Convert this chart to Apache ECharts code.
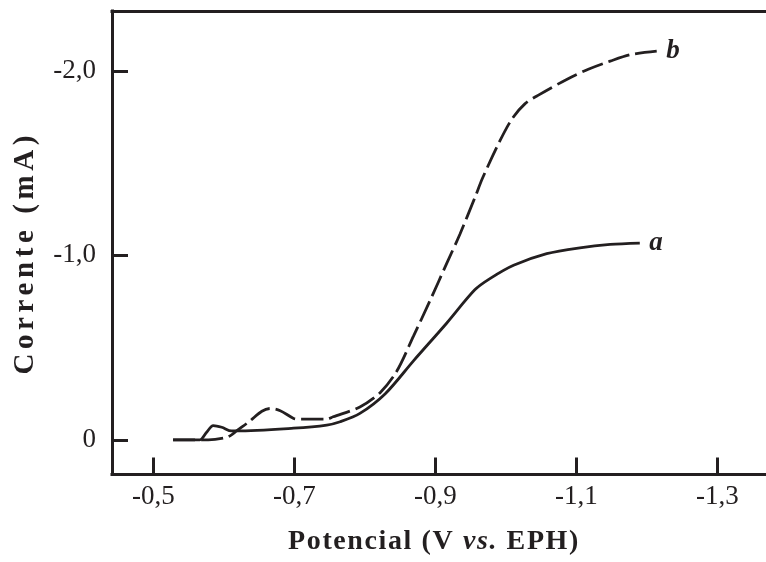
<!DOCTYPE html>
<html>
<head>
<meta charset="utf-8">
<script src="https://cdn.jsdelivr.net/npm/echarts@6/dist/echarts.min.js"></script>
<style>
html,body{margin:0;padding:0;background:#fff;}
#chart{width:766px;height:562px;}
</style>
</head>
<body>
<div id="chart"></div>
<script>
// ---- data ----
const potentialA = [-0.528,-0.566,-0.575,-0.585,-0.597,-0.611,-0.618,-0.699,-0.746,-0.765,-0.793,-0.829,-0.869,-0.916,-0.956,-0.978,-1.011,-1.058,-1.105,-1.148,-1.190];
const currentA   = [0,0,-0.038,-0.077,-0.068,-0.048,-0.048,-0.063,-0.080,-0.098,-0.143,-0.250,-0.428,-0.632,-0.813,-0.875,-0.946,-1.009,-1.041,-1.059,-1.066];
const potentialB = [-0.528,-0.578,-0.602,-0.611,-0.618,-0.637,-0.654,-0.666,-0.680,-0.699,-0.708,-0.746,-0.755,-0.793,-0.822,-0.845,-0.869,-0.893,-0.916,-0.935,-0.956,-0.967,-0.991,-1.009,-1.027,-1.045,-1.087,-1.117,-1.148,-1.178,-1.214];
const currentB   = [0,0,-0.011,-0.027,-0.048,-0.102,-0.155,-0.170,-0.158,-0.116,-0.112,-0.112,-0.125,-0.178,-0.257,-0.370,-0.562,-0.759,-0.955,-1.116,-1.312,-1.419,-1.616,-1.741,-1.821,-1.866,-1.955,-2.009,-2.053,-2.089,-2.107];
const curveNames = ['a','b'];
const xTicks = [-0.5,-0.7,-0.9,-1.1,-1.3];
const xTickLabels = ['-0,5','-0,7','-0,9','-1,1','-1,3'];
const yTicks = [0,-1.0,-2.0];
const yTickLabels = ['0','-1,0','-2,0'];
const xTitle = ['Potencial (V ','vs.',' EPH)'];
const yTitle = 'Corrente (mA)';

// ---- style ----
const INK = '#231f20';
const SERIF = '"Liberation Serif", "Times New Roman", serif';

// letter spacing for the bold axis titles (canvas letterSpacing), measured consistently
const canSpace = typeof CanvasRenderingContext2D !== 'undefined' && 'letterSpacing' in CanvasRenderingContext2D.prototype;
function trackFor(font){
  if (!canSpace || !/bold|[6-9]00/.test(font)) return 0;
  if (/29px/.test(font)) return 4.6;   // y-axis title
  if (/28px/.test(font)) return 1.6;   // x-axis title
  return 0;
}
if (canSpace && echarts.setPlatformAPI) {
  const proto = CanvasRenderingContext2D.prototype;
  const fill = proto.fillText;
  proto.fillText = function(t, x, y, m){
    const s = trackFor(this.font);
    this.save();
    const f = this.font;
    this.letterSpacing = s + 'px';
    this.font = f;
    const r = (m === undefined) ? fill.call(this, t, x, y) : fill.call(this, t, x, y, m);
    this.restore();
    return r;
  };
  const mctx = document.createElement('canvas').getContext('2d');
  echarts.setPlatformAPI({
    measureText(text, font){
      mctx.letterSpacing = '0px';
      mctx.font = font;
      const w = mctx.measureText(text).width;
      return { width: w + trackFor(mctx.font) * String(text).length };
    }
  });
}

function pick(ticks, labels){
  return v => { const i = ticks.findIndex(t => Math.abs(t - v) < 1e-6); return i < 0 ? '' : labels[i]; };
}
const pairs = (xs, ys) => xs.map((x, i) => [x, ys[i]]);

const X_MIN = -1.369, X_MAX = -0.4414;
const Y_MIN = -2.3246, Y_MAX = 0.1875;
const axisLineStyle = { color: INK, width: 3, cap: 'square' };
const boldText = { fontFamily: SERIF, fontSize: 28, fontWeight: 'bold', color: INK };

function curve(name, xs, ys, dashed){
  const last = xs.length - 1;
  return {
    name, type: 'line', data: pairs(xs, ys), showSymbol: false, smooth: 0.3,
    lineStyle: { color: INK, width: 2.8, type: dashed ? [22, 6] : 'solid' },
    itemStyle: { color: INK },
    markPoint: {
      symbol: 'circle', symbolSize: 1, itemStyle: { color: 'transparent' }, silent: true,
      data: [{ coord: [xs[last], ys[last]] }],
      label: { show: true, position: 'right', distance: 9, formatter: name,
               fontFamily: SERIF, fontSize: 27, fontWeight: 'bold', fontStyle: 'italic', color: INK }
    }
  };
}

const chart = echarts.init(document.getElementById('chart'), null, { renderer: 'canvas' });
chart.setOption({
  animation: false,
  backgroundColor: '#ffffff',
  grid: { left: 112, right: 0, top: 11, bottom: 82, containLabel: false },
  xAxis: [{
    type: 'value', inverse: true, min: X_MIN, max: X_MAX, position: 'bottom',
    axisLine: { show: true, onZero: false, lineStyle: axisLineStyle },
    axisTick: { show: true, inside: true, length: 17, customValues: xTicks, lineStyle: { color: INK, width: 3 } },
    axisLabel: { show: true, margin: 9, customValues: xTicks, formatter: pick(xTicks, xTickLabels),
                 fontFamily: SERIF, fontSize: 27, color: INK },
    splitLine: { show: false },
    name: '{t|' + xTitle[0] + '}{i|' + xTitle[1] + '}{t|' + xTitle[2] + '}',
    nameLocation: 'middle', nameGap: 53,
    nameTextStyle: { padding: [0, 10, 0, 0], rich: { t: boldText, i: Object.assign({}, boldText, { fontStyle: 'italic' }) } }
  }, {
    type: 'value', inverse: true, min: X_MIN, max: X_MAX, position: 'top',
    axisLine: { show: true, onZero: false, lineStyle: axisLineStyle },
    axisTick: { show: false }, axisLabel: { show: false }, splitLine: { show: false }
  }],
  yAxis: {
    type: 'value', inverse: true, min: Y_MIN, max: Y_MAX, position: 'left',
    axisLine: { show: true, onZero: false, lineStyle: axisLineStyle },
    axisTick: { show: true, inside: true, length: 16, customValues: yTicks, lineStyle: { color: INK, width: 3 } },
    axisLabel: { show: true, margin: 16, customValues: yTicks, formatter: pick(yTicks, yTickLabels),
                 fontFamily: SERIF, fontSize: 27, color: INK },
    splitLine: { show: false },
    name: yTitle, nameLocation: 'middle', nameRotate: 90, nameGap: 58,
    nameTextStyle: Object.assign({}, boldText, { fontSize: 29, padding: [0, 20, 0, 0] })
  },
  series: [
    curve(curveNames[0], potentialA, currentA, false),
    curve(curveNames[1], potentialB, currentB, true)
  ]
});
</script>
</body>
</html>
